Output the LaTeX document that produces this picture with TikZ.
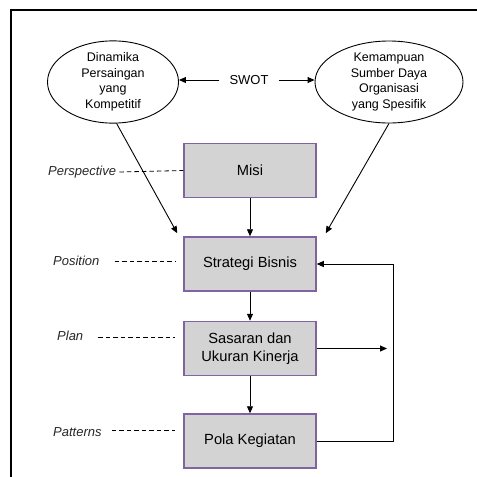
\documentclass[tikz,border=0pt]{standalone}
\usepackage{fontspec}
\setmainfont{Liberation Sans}
\usepackage{tikz}
\usetikzlibrary{arrows.meta, positioning, shapes.geometric}
\usepackage{xcolor}
\definecolor{boxgray}{HTML}{D3D3D3}
\definecolor{boxline}{HTML}{8064A2}

\begin{document}
\begin{tikzpicture}[
        x=1pt, y=1pt,
        box/.style={rectangle, draw=boxline, fill=boxgray, line width=1.5pt,
                   minimum height=54pt, minimum width=132pt, align=center,
                   font=\fontsize{14.7}{18}\selectfont},
        bubble/.style={ellipse, draw, line width=0.9pt, inner sep=0pt,
                   minimum height=82pt, align=center,
                   font=\fontsize{12.5}{15.5}\selectfont},
        lbl/.style={anchor=west, inner sep=0pt, text=black!85,
                   font=\fontsize{13}{15}\selectfont\itshape},
        arrow/.style={-{Triangle[length=7pt, width=6pt]}, line width=0.9pt},
        guide/.style={dashed, dash pattern=on 4.5pt off 3pt, line width=0.8pt}
    ]
    \useasboundingbox (0,0) rectangle (477,-477);
    \draw[line width=2pt] (11,-477) |- (477,-10);

    \node[bubble, minimum width=131pt] (rival) at (113,-82) {Dinamika\\Persaingan\\yang\\Kompetitif};
    \node[bubble, minimum width=148pt] (resource) at (389,-82) {Kemampuan\\Sumber Daya\\Organisasi\\yang Spesifik};
    \node[font=\fontsize{13}{15}\selectfont, inner sep=10pt] (swot) at (249,-80) {SWOT};

    \node[box] (misi) at (250,-170.5) {Misi};
    \node[box, below=38pt of misi] (strategi) {Strategi Bisnis};
    \node[box, below=29pt of strategi] (sasaran) {Sasaran dan\\Ukuran Kinerja};
    \node[box, below=37pt of sasaran] (pola) {Pola Kegiatan};

    \node[lbl] (perspective) at (48,-172) {Perspective};
    \node[lbl] (position) at (53,-261) {Position};
    \node[lbl] (plan) at (57,-336) {Plan};
    \node[lbl] (patterns) at (53,-432) {Patterns};

    \coordinate (dashend) at (175,0);
    \coordinate (loop) at (393,0);

    \draw[arrow] (swot.west) -- (swot.west -| rival.east);
    \draw[arrow] (swot.east) -- (swot.east -| resource.west);

    \draw[arrow] (rival.275) -- ([shift={(-6,3)}]strategi.north west);
    \draw[arrow] (resource.south) -- ([shift={(9,3)}]strategi.north east);
    \draw[arrow] (misi) -- (strategi);
    \draw[arrow] (strategi) -- (sasaran);
    \draw[arrow] (sasaran) -- (pola);

    \draw[arrow] (pola.east) -- (pola.east -| loop) |- (strategi.east);
    \draw[arrow, shorten >=6pt] (sasaran.east) -- (sasaran.east -| loop);

    \draw[guide] ([xshift=3pt]perspective.east) -- (misi.west);
    \draw[guide] ([xshift=15pt]position.east) -- (position.east -| dashend);
    \draw[guide] ([xshift=15pt,yshift=-1pt]plan.east) -- ([yshift=-1pt]plan.east -| dashend);
    \draw[guide] ([xshift=10pt,yshift=2pt]patterns.east) -- ([yshift=2pt]patterns.east -| dashend);

    \end{tikzpicture}
\end{document}
